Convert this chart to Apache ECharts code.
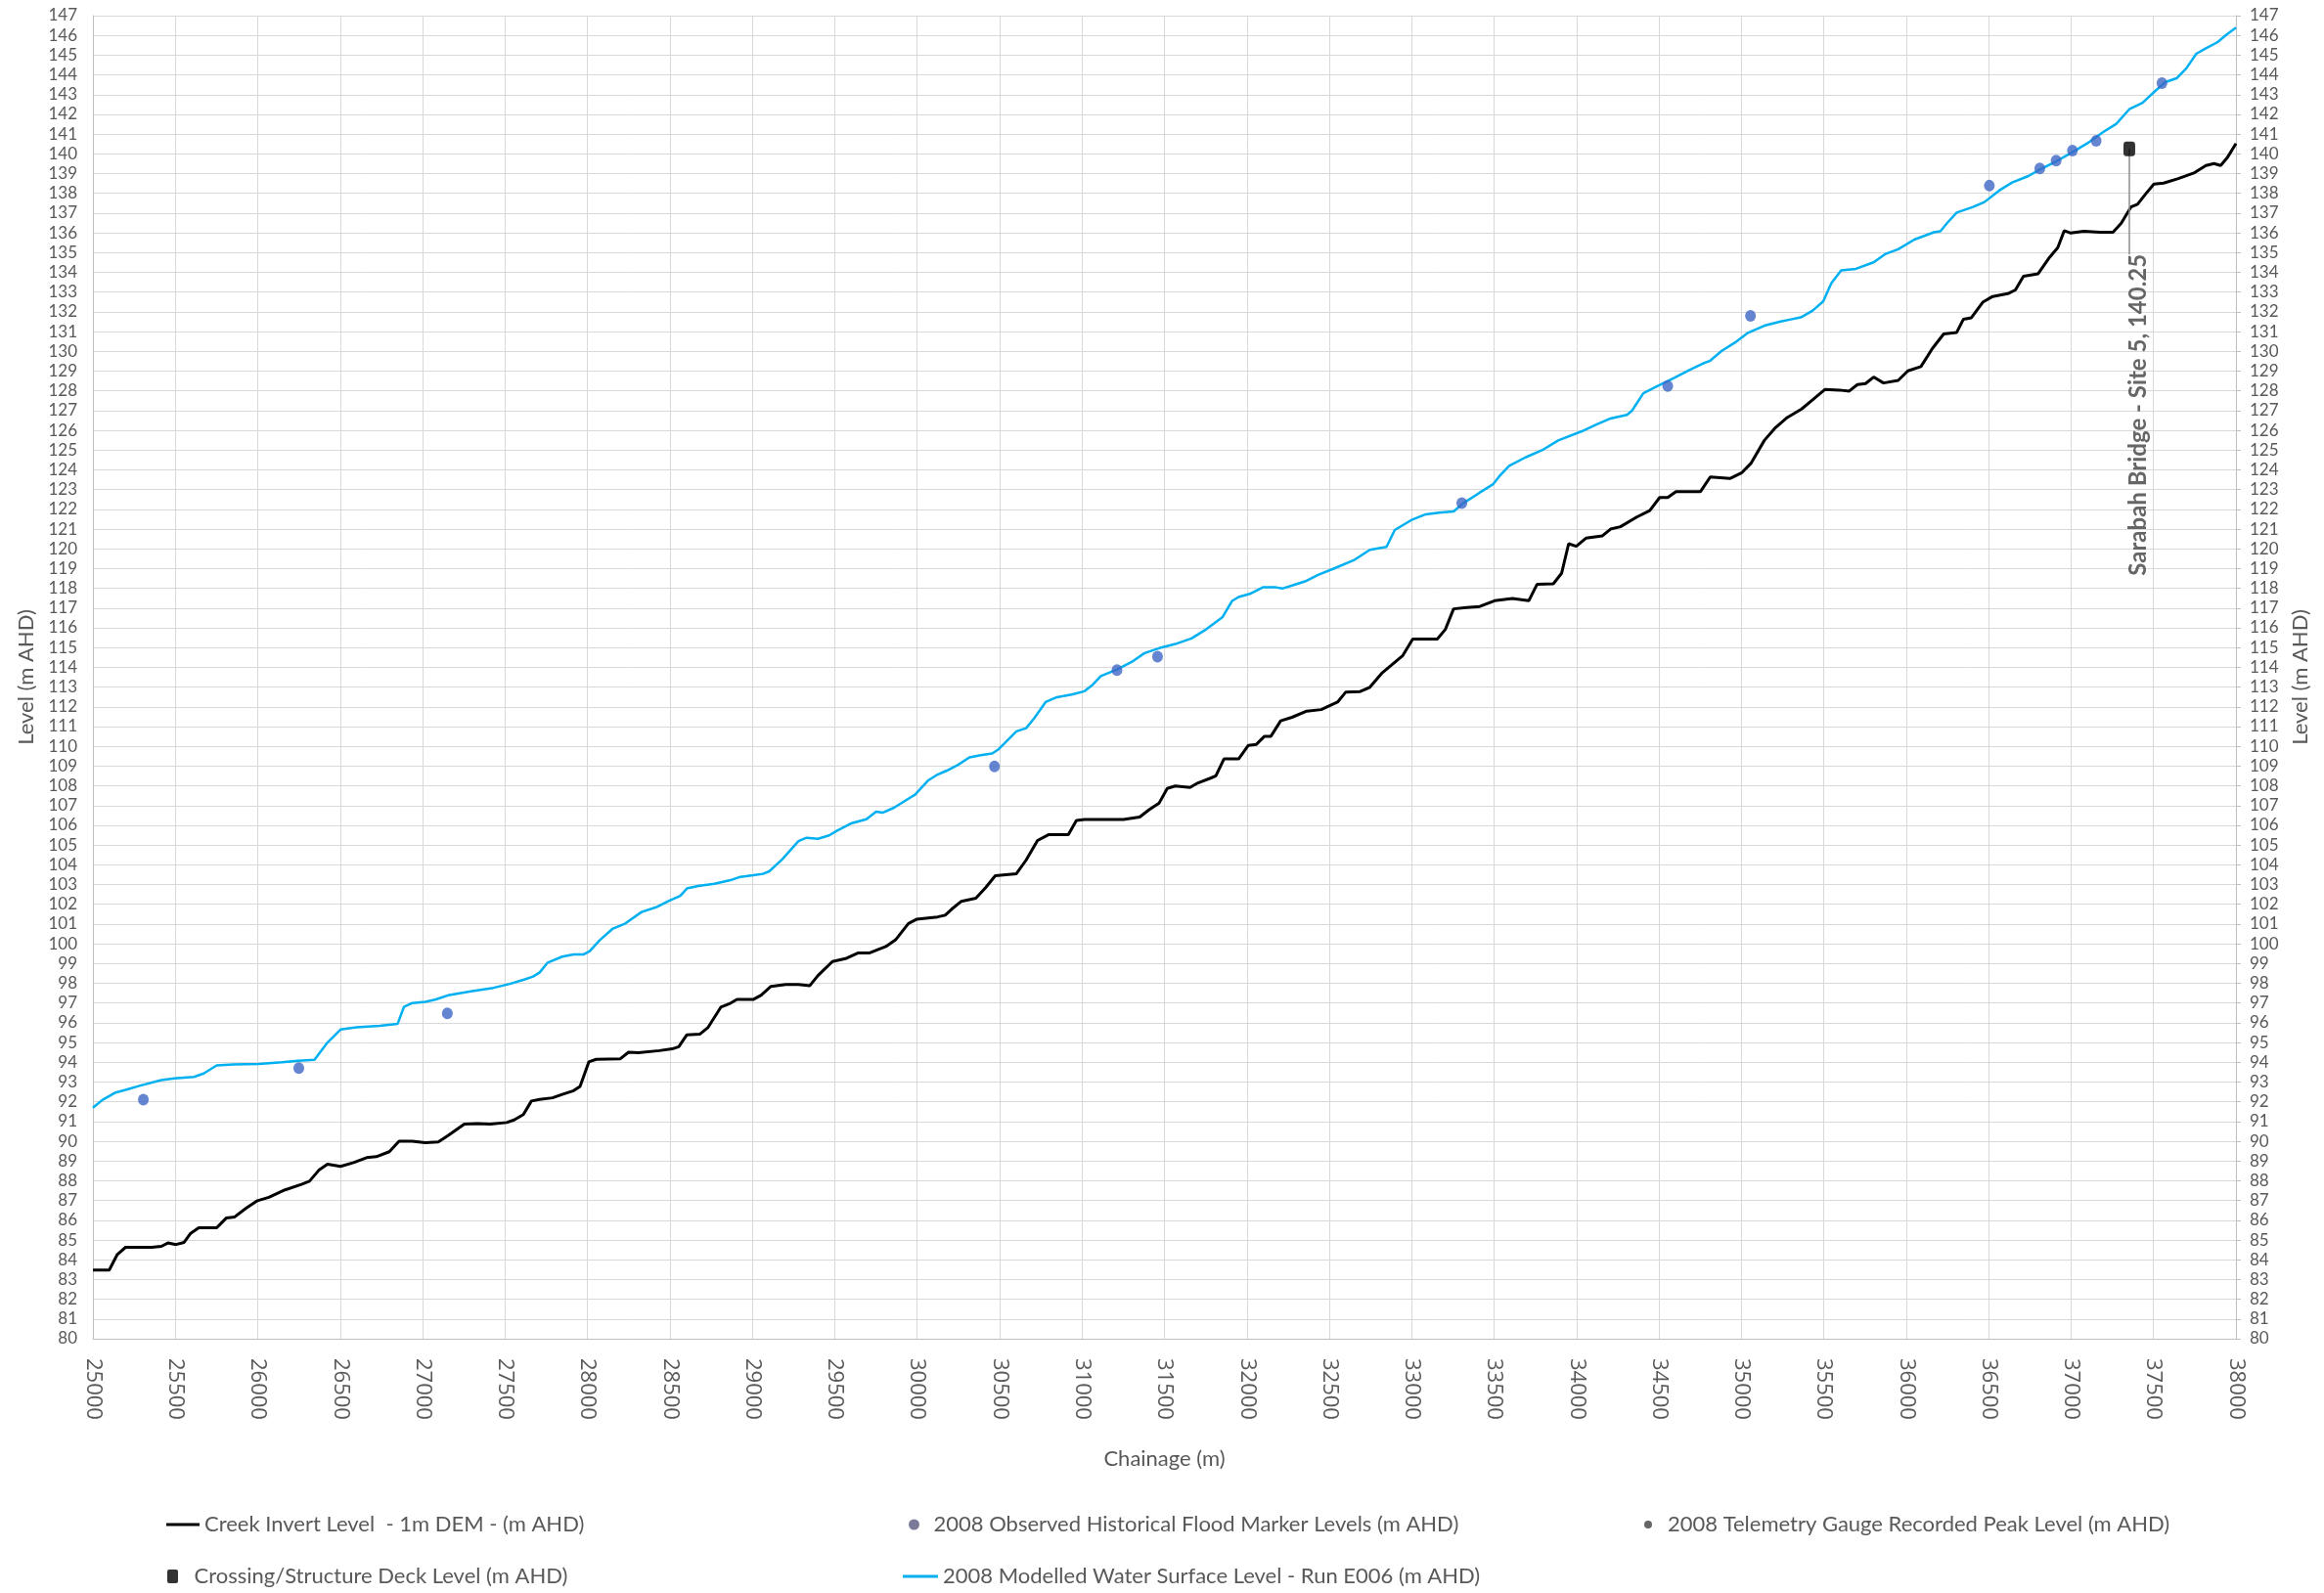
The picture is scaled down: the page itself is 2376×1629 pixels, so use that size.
<!DOCTYPE html>
<html>
<head>
<meta charset="utf-8">
<title>Creek long section</title>
<script src="https://cdn.jsdelivr.net/npm/echarts/dist/echarts.min.js"></script>
<style>
html, body { margin: 0; padding: 0; background: #fff; }
#main { width: 2376px; height: 1629px; }
</style>
</head>
<body>
<div id="main"></div>
<script>
// creek invert level (1m DEM)
const invertChainage = [
    25000, 25099, 25148, 25198, 25356, 25415, 25455, 25504, 25553, 25593, 25642, 25751, 25810, 25860, 25929, 25998,
    26067, 26166, 26265, 26314, 26373, 26423, 26502, 26581, 26660, 26719, 26798, 26857, 26937, 27016, 27095, 27154,
    27253, 27332, 27411, 27510, 27555, 27611, 27660, 27710, 27788, 27847, 27916, 27955, 28008, 28053, 28200, 28249,
    28308, 28436, 28514, 28554, 28603, 28681, 28730, 28809, 28858, 28907, 29005, 29054, 29113, 29202, 29280, 29349,
    29398, 29486, 29565, 29643, 29712, 29810, 29869, 29947, 29996, 30124, 30170, 30209, 30268, 30356, 30415, 30474,
    30602, 30661, 30730, 30799, 30917, 30966, 31015, 31251, 31350, 31409, 31468, 31517, 31566, 31655, 31704, 31783,
    31812, 31861, 31950, 32009, 32058, 32107, 32146, 32205, 32274, 32363, 32451, 32550, 32599, 32687, 32746, 32817,
    32877, 32946, 33006, 33155, 33204, 33254, 33333, 33413, 33502, 33611, 33710, 33760, 33859, 33909, 33952, 33998,
    34057, 34157, 34206, 34266, 34365, 34444, 34504, 34553, 34603, 34752, 34811, 34930, 35000, 35059, 35139, 35208,
    35278, 35365, 35437, 35506, 35595, 35654, 35704, 35753, 35802, 35862, 35951, 36010, 36089, 36158, 36227, 36306,
    36346, 36395, 36464, 36524, 36622, 36662, 36711, 36800, 36869, 36919, 36958, 36998, 37077, 37176, 37254, 37304,
    37363, 37403, 37452, 37502, 37561, 37650, 37749, 37818, 37867, 37907, 37946, 38000
]
const invertLevel = [
    83.48, 83.48, 84.27, 84.63, 84.63, 84.68, 84.85, 84.77, 84.88, 85.34, 85.62, 85.62, 86.12, 86.17, 86.61, 86.99,
    87.16, 87.54, 87.82, 87.98, 88.56, 88.84, 88.73, 88.92, 89.17, 89.22, 89.47, 90.0, 90.0, 89.93, 89.96, 90.29,
    90.87, 90.9, 90.87, 90.95, 91.08, 91.35, 92.04, 92.12, 92.2, 92.37, 92.56, 92.78, 94.02, 94.15, 94.18, 94.51,
    94.48, 94.59, 94.68, 94.79, 95.39, 95.42, 95.75, 96.79, 96.95, 97.18, 97.18, 97.4, 97.84, 97.94, 97.94, 97.88,
    98.39, 99.1, 99.25, 99.54, 99.54, 99.86, 100.2, 101.03, 101.24, 101.36, 101.45, 101.75, 102.15, 102.31, 102.84, 103.45,
    103.55, 104.24, 105.23, 105.53, 105.53, 106.25, 106.3, 106.3, 106.42, 106.8, 107.13, 107.87, 107.99, 107.92, 108.15, 108.4,
    108.5, 109.36, 109.36, 110.05, 110.1, 110.51, 110.51, 111.29, 111.47, 111.78, 111.86, 112.24, 112.74, 112.77, 112.99, 113.69,
    114.11, 114.6, 115.43, 115.43, 115.92, 116.96, 117.03, 117.08, 117.37, 117.49, 117.37, 118.2, 118.23, 118.76, 120.26, 120.13,
    120.54, 120.66, 121.0, 121.12, 121.61, 121.94, 122.6, 122.6, 122.9, 122.9, 123.64, 123.56, 123.84, 124.34, 125.49, 126.15,
    126.65, 127.08, 127.58, 128.07, 128.04, 127.99, 128.32, 128.37, 128.7, 128.4, 128.53, 129.01, 129.23, 130.14, 130.88, 130.96,
    131.62, 131.7, 132.49, 132.78, 132.94, 133.11, 133.8, 133.93, 134.76, 135.25, 136.11, 135.99, 136.08, 136.03, 136.03, 136.49,
    137.31, 137.45, 137.97, 138.47, 138.52, 138.75, 139.05, 139.41, 139.51, 139.41, 139.79, 140.53
]

// 2008 modelled water surface level, run E006
const waterChainage = [
    25000, 25059, 25138, 25198, 25287, 25415, 25494, 25613, 25672, 25751, 25850, 26008, 26146, 26245, 26344, 26423,
    26502, 26600, 26739, 26848, 26887, 26937, 27016, 27075, 27154, 27292, 27430, 27529, 27620, 27670, 27710, 27759,
    27847, 27916, 27975, 28014, 28073, 28151, 28230, 28328, 28416, 28495, 28563, 28603, 28671, 28770, 28868, 28927,
    29005, 29064, 29103, 29182, 29280, 29329, 29398, 29466, 29515, 29604, 29692, 29751, 29790, 29859, 29928, 29987,
    30065, 30124, 30180, 30248, 30317, 30386, 30455, 30494, 30543, 30602, 30661, 30710, 30779, 30848, 30937, 31015,
    31065, 31114, 31212, 31301, 31379, 31468, 31566, 31664, 31743, 31851, 31910, 31950, 32018, 32097, 32176, 32215,
    32274, 32353, 32432, 32530, 32648, 32746, 32847, 32897, 32996, 33085, 33165, 33254, 33313, 33413, 33492, 33532,
    33591, 33690, 33790, 33889, 34028, 34127, 34206, 34305, 34335, 34405, 34484, 34593, 34682, 34762, 34811, 34881,
    34960, 35040, 35139, 35238, 35307, 35360, 35430, 35496, 35545, 35605, 35694, 35802, 35871, 35951, 36049, 36168,
    36207, 36247, 36306, 36405, 36474, 36563, 36642, 36741, 36810, 36909, 36998, 37097, 37195, 37274, 37353, 37433,
    37512, 37571, 37640, 37699, 37759, 37818, 37887, 37946, 38000
]
const waterLevel = [
    91.7, 92.1, 92.47, 92.6, 92.82, 93.1, 93.18, 93.26, 93.43, 93.84, 93.89, 93.91, 94.0, 94.07, 94.12, 95.0,
    95.66, 95.77, 95.85, 95.94, 96.81, 97.0, 97.06, 97.17, 97.39, 97.59, 97.77, 97.97, 98.2, 98.34, 98.55, 99.05,
    99.35, 99.46, 99.46, 99.63, 100.17, 100.75, 101.03, 101.61, 101.85, 102.18, 102.43, 102.8, 102.93, 103.04, 103.22, 103.39,
    103.47, 103.54, 103.67, 104.28, 105.2, 105.37, 105.32, 105.49, 105.73, 106.11, 106.31, 106.69, 106.64, 106.89, 107.25, 107.55,
    108.26, 108.57, 108.77, 109.06, 109.44, 109.55, 109.64, 109.85, 110.26, 110.76, 110.92, 111.42, 112.24, 112.49, 112.62, 112.79,
    113.12, 113.56, 113.89, 114.27, 114.72, 114.97, 115.18, 115.46, 115.87, 116.53, 117.36, 117.56, 117.72, 118.05, 118.05, 117.99,
    118.14, 118.35, 118.68, 119.01, 119.42, 119.95, 120.1, 120.95, 121.45, 121.75, 121.83, 121.89, 122.31, 122.85, 123.26, 123.68,
    124.2, 124.63, 124.99, 125.49, 125.94, 126.32, 126.6, 126.78, 126.98, 127.88, 128.21, 128.66, 129.04, 129.37, 129.53, 130.03,
    130.44, 130.94, 131.3, 131.51, 131.63, 131.72, 132.05, 132.53, 133.44, 134.1, 134.18, 134.51, 134.92, 135.17, 135.66, 136.03,
    136.08, 136.49, 137.03, 137.31, 137.56, 138.14, 138.55, 138.88, 139.21, 139.62, 140.04, 140.53, 141.11, 141.52, 142.26, 142.59,
    143.2, 143.63, 143.83, 144.33, 145.07, 145.35, 145.65, 146.06, 146.39
]

// 2008 observed historical flood markers
const markerChainage = [25306, 26249, 27150, 30469, 31212, 31458, 33304, 34553, 35055, 36504, 36810, 36909, 37008, 37152, 37551]
const markerLevel = [92.11, 93.71, 96.48, 108.98, 113.86, 114.54, 122.31, 128.25, 131.8, 138.39, 139.26, 139.66, 140.17, 140.66, 143.58]

// telemetry gauge peak (legend only, no point shown)
const gaugeChainage = []
const gaugeLevel = []

// crossing / structure deck
const deckChainage = [37353]
const deckLevel = [140.25]
const deckLabel = ['Sarabah Bridge - Site 5, 140.25']

// axes
const chainageTicks = { min: 25000, max: 38000, interval: 500 }
const levelTicks = { min: 80, max: 147, interval: 1 }

const seriesNames = {
    invert: 'Creek Invert Level  - 1m DEM - (m AHD)',
    marker: '2008 Observed Historical Flood Marker Levels (m AHD)',
    gauge: '2008 Telemetry Gauge Recorded Peak Level (m AHD)',
    deck: 'Crossing/Structure Deck Level (m AHD)',
    water: '2008 Modelled Water Surface Level - Run E006 (m AHD)'
}


const textColor = '#595959'
const gridColor = '#D9D9D9'
const axisColor = '#BFBFBF'
const font = 'Lato, "Liberation Sans", sans-serif'
const leaderDrop = 5.35 // how far (m) the callout leader runs down from the deck

const pairs = (xs, ys) => xs.map((x, i) => [x, ys[i]])

// one legend box per entry, so each sits where the original put it
const legendBox = (name, left, top, icon, w, h, color) => ({
    data: [{ name: name, icon: icon, itemStyle: { color: color } }],
    left: left,
    top: top,
    itemWidth: w,
    itemHeight: h,
    selectedMode: false,
    textStyle: { color: textColor, fontSize: 22, fontFamily: font }
})

const levelAxis = (position) => ({
    type: 'value',
    position: position,
    min: levelTicks.min,
    max: levelTicks.max,
    interval: levelTicks.interval,
    name: 'Level (m AHD)',
    nameLocation: 'middle',
    nameRotate: 90,
    nameGap: position === 'left' ? 57 : 54,
    nameTextStyle: { color: textColor, fontSize: 22, fontFamily: font },
    axisLine: { show: true, lineStyle: { color: axisColor, width: 1 } },
    axisTick: { show: position === 'right', length: 5, lineStyle: { color: axisColor } },
    axisLabel: { color: textColor, fontSize: 17, fontFamily: font, margin: position === 'left' ? 16 : 14 },
    splitLine: { show: position === 'left', lineStyle: { color: gridColor, width: 1 } }
})

const myChart = echarts.init(document.getElementById('main'))

myChart.setOption({
    animation: false,
    backgroundColor: '#fff',
    grid: { left: 95, right: 90, top: 16, bottom: 260, outerBoundsMode: 'none' },
    legend: [
        legendBox(seriesNames.invert, 165, 1543, 'rect', 34, 3, '#000'),
        legendBox(seriesNames.marker, 924, 1543, 'circle', 30, 11, '#5A5A80'),
        legendBox(seriesNames.gauge, 1676, 1543, 'circle', 30, 8, '#404040'),
        legendBox(seriesNames.deck, 166, 1596, 'path://M2,0 H9 Q11,0 11,2 V12 Q11,14 9,14 H2 Q0,14 0,12 V2 Q0,0 2,0 Z', 34, 14, '#000'),
        legendBox(seriesNames.water, 918, 1596, 'rect', 36, 3, '#00B0F0')
    ],
    xAxis: {
        type: 'value',
        min: chainageTicks.min,
        max: chainageTicks.max,
        interval: chainageTicks.interval,
        name: 'Chainage (m)',
        nameLocation: 'middle',
        nameGap: 112,
        nameTextStyle: { color: textColor, fontSize: 22, fontFamily: font },
        axisLine: { show: true, onZero: false, lineStyle: { color: axisColor, width: 1 } },
        axisTick: { show: false },
        axisLabel: {
            rotate: -90,
            margin: 20,
            color: textColor,
            fontSize: 22,
            fontFamily: '"Open Sans", ' + font,
            formatter: (v) => String(v)
        },
        splitLine: { show: true, lineStyle: { color: gridColor, width: 1 } }
    },
    yAxis: [levelAxis('left'), levelAxis('right')],
    series: [
        {
            name: seriesNames.invert,
            type: 'line',
            data: pairs(invertChainage, invertLevel),
            symbol: 'none',
            lineStyle: { color: '#000', width: 3 },
            itemStyle: { color: '#000' },
            z: 3
        },
        {
            name: seriesNames.water,
            type: 'line',
            data: pairs(waterChainage, waterLevel),
            symbol: 'none',
            lineStyle: { color: '#00B0F0', width: 2.5 },
            itemStyle: { color: '#00B0F0' },
            z: 3
        },
        {
            name: seriesNames.marker,
            type: 'scatter',
            data: pairs(markerChainage, markerLevel),
            symbol: 'circle',
            symbolSize: [11, 12],
            itemStyle: { color: '#3F67C6' },
            z: 5
        },
        {
            name: seriesNames.gauge,
            type: 'scatter',
            data: pairs(gaugeChainage, gaugeLevel),
            symbolSize: 8,
            itemStyle: { color: '#404040' },
            z: 5
        },
        {
            name: seriesNames.deck,
            type: 'scatter',
            data: pairs(deckChainage, deckLevel),
            symbol: 'roundRect',
            symbolSize: [12, 15],
            itemStyle: { color: '#000' },
            z: 6,
            label: {
                show: true,
                formatter: (p) => deckLabel[p.dataIndex],
                position: 'bottom',
                distance: 4,
                rotate: 90,
                align: 'right',
                verticalAlign: 'middle',
                color: '#404040',
                fontSize: 24,
                fontWeight: 'bold',
                fontFamily: font
            },
            // label is rotated, so the shift is given in its own turned frame
            labelLayout: { dx: -96, dy: 9 },
            // leader from the deck square down to the callout text
            markLine: {
                silent: true,
                symbol: ['none', 'none'],
                label: { show: false },
                lineStyle: { color: '#8C8C8C', width: 1.5, type: 'solid' },
                data: deckChainage.map((c, i) => [
                    { coord: [c, deckLevel[i]] },
                    { coord: [c, deckLevel[i] - leaderDrop] }
                ])
            }
        }
    ]
})
</script>
</body>
</html>
